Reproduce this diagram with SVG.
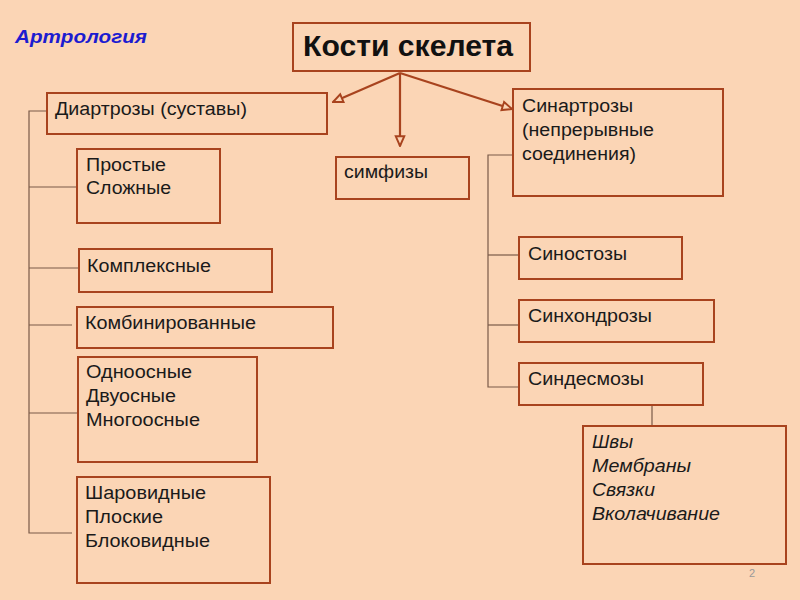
<svg xmlns="http://www.w3.org/2000/svg" width="800" height="600" viewBox="0 0 800 600">
<defs>
<style>
.box{fill:#FBD5B5;stroke:#A8431E;stroke-width:2}
.t{font-family:"Liberation Sans",Arial,sans-serif;font-size:18px;fill:#1a1a1a}
.ti{font-family:"Liberation Sans",Arial,sans-serif;font-size:18px;font-style:italic;fill:#1a1a1a}
.conn{stroke:#7a5a48;stroke-width:1.2;fill:none}
.arr{stroke:#A8431E;stroke-width:2.2;fill:none}
</style>
<marker id="ah" viewBox="0 0 10 10" refX="9" refY="5" markerWidth="5.5" markerHeight="5.5" orient="auto" markerUnits="strokeWidth">
<path d="M1,1.5 L9,5 L1,8.5 Z" fill="#FBD5B5" stroke="#A8431E" stroke-width="1.6"/>
</marker>
</defs>
<rect width="800" height="600" fill="#FBD5B5"/>
<text x="15" y="43" font-family="Liberation Sans,Arial,sans-serif" font-size="19" font-weight="bold" font-style="italic" fill="#1C1CD0" textLength="132" lengthAdjust="spacingAndGlyphs">Артрология</text>

<g id="connectors">
<line class="arr" x1="400" y1="73" x2="333" y2="102" marker-end="url(#ah)"/>
<line class="arr" x1="400" y1="73" x2="400" y2="146" marker-end="url(#ah)"/>
<line class="arr" x1="400" y1="73" x2="512" y2="109" marker-end="url(#ah)"/>
<polyline class="conn" points="47,111 29,111 29,533 72,533"/>
<line class="conn" x1="29" y1="187" x2="77" y2="187"/>
<line class="conn" x1="29" y1="268" x2="79" y2="268"/>
<line class="conn" x1="29" y1="325" x2="72" y2="325"/>
<line class="conn" x1="29" y1="413" x2="78" y2="413"/>
<polyline class="conn" points="513,155 488,155 488,387 519,387"/>
<line class="conn" x1="488" y1="255" x2="519" y2="255"/>
<line class="conn" x1="488" y1="325" x2="519" y2="325"/>
<line class="conn" x1="652" y1="405" x2="652" y2="426"/>
</g>

<g id="root">
<rect class="box" x="293" y="23" width="237" height="48"/>
<text x="303" y="56" font-family="Liberation Sans,Arial,sans-serif" font-size="29" font-weight="bold" fill="#111" textLength="210" lengthAdjust="spacingAndGlyphs">Кости скелета</text>
</g>
<g id="diartrozy">
<rect class="box" x="47" y="93" width="280" height="41"/>
<text class="t" x="55" y="115" textLength="192" lengthAdjust="spacingAndGlyphs">Диартрозы (суставы)</text>
</g>
<g id="prostye">
<rect class="box" x="77" y="149" width="143" height="74"/>
<text class="t" x="86" y="171" textLength="80" lengthAdjust="spacingAndGlyphs">Простые</text>
<text class="t" x="86" y="194" textLength="85" lengthAdjust="spacingAndGlyphs">Сложные</text>
</g>
<g id="kompleksnye">
<rect class="box" x="79" y="249" width="193" height="43"/>
<text class="t" x="87" y="272" textLength="124" lengthAdjust="spacingAndGlyphs">Комплексные</text>
</g>
<g id="kombinirovannye">
<rect class="box" x="77" y="307" width="256" height="41"/>
<text class="t" x="85" y="329" textLength="171" lengthAdjust="spacingAndGlyphs">Комбинированные</text>
</g>
<g id="osnye">
<rect class="box" x="78" y="357" width="179" height="105"/>
<text class="t" x="86" y="378" textLength="106" lengthAdjust="spacingAndGlyphs">Одноосные</text>
<text class="t" x="86" y="402" textLength="90" lengthAdjust="spacingAndGlyphs">Двуосные</text>
<text class="t" x="86" y="426" textLength="114" lengthAdjust="spacingAndGlyphs">Многоосные</text>
</g>
<g id="formy">
<rect class="box" x="77" y="477" width="193" height="106"/>
<text class="t" x="85" y="499" textLength="121" lengthAdjust="spacingAndGlyphs">Шаровидные</text>
<text class="t" x="85" y="523" textLength="78" lengthAdjust="spacingAndGlyphs">Плоские</text>
<text class="t" x="85" y="547" textLength="125" lengthAdjust="spacingAndGlyphs">Блоковидные</text>
</g>
<g id="simfizy">
<rect class="box" x="336" y="157" width="133" height="42"/>
<text class="t" x="344" y="178" textLength="84" lengthAdjust="spacingAndGlyphs">симфизы</text>
</g>
<g id="sinartrozy">
<rect class="box" x="513" y="89" width="210" height="107"/>
<text class="t" x="522" y="112" textLength="111" lengthAdjust="spacingAndGlyphs">Синартрозы</text>
<text class="t" x="522" y="136" textLength="132" lengthAdjust="spacingAndGlyphs">(непрерывные</text>
<text class="t" x="522" y="160" textLength="114" lengthAdjust="spacingAndGlyphs">соединения)</text>
</g>
<g id="sinostozy">
<rect class="box" x="519" y="237" width="163" height="42"/>
<text class="t" x="528" y="260" textLength="99" lengthAdjust="spacingAndGlyphs">Синостозы</text>
</g>
<g id="sinhondrozy">
<rect class="box" x="519" y="300" width="195" height="42"/>
<text class="t" x="528" y="322" textLength="124" lengthAdjust="spacingAndGlyphs">Синхондрозы</text>
</g>
<g id="sindesmozy">
<rect class="box" x="519" y="363" width="184" height="42"/>
<text class="t" x="528" y="385" textLength="116" lengthAdjust="spacingAndGlyphs">Синдесмозы</text>
</g>
<g id="shvy">
<rect class="box" x="583" y="426" width="203" height="138"/>
<text class="ti" x="592" y="448" textLength="41" lengthAdjust="spacingAndGlyphs">Швы</text>
<text class="ti" x="592" y="472" textLength="99" lengthAdjust="spacingAndGlyphs">Мембраны</text>
<text class="ti" x="592" y="496" textLength="63" lengthAdjust="spacingAndGlyphs">Связки</text>
<text class="ti" x="592" y="520" textLength="128" lengthAdjust="spacingAndGlyphs">Вколачивание</text>
</g>
<text x="749" y="577" font-family="Liberation Sans,Arial,sans-serif" font-size="11" fill="#999">2</text>
</svg>
